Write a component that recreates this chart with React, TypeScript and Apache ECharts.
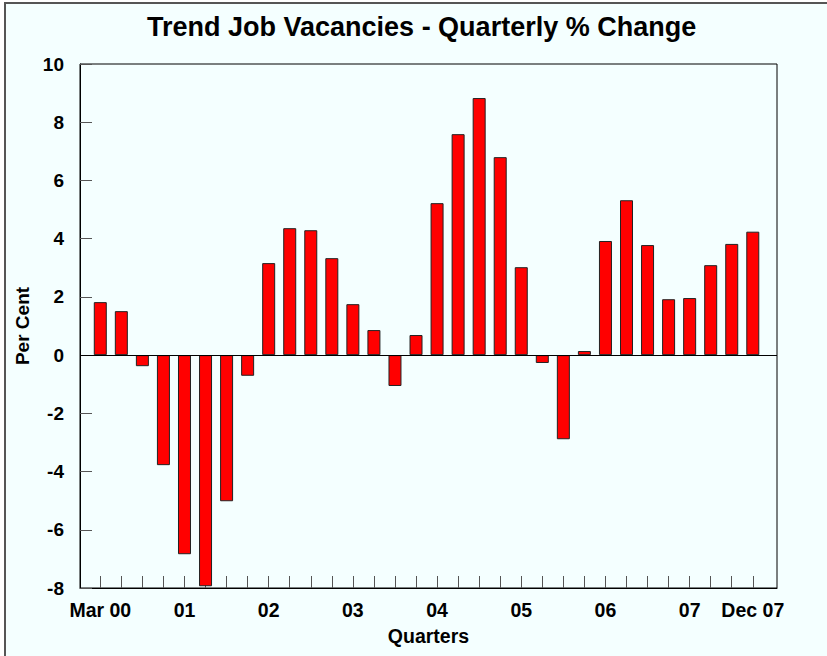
import React, { useEffect, useRef } from "react";
import * as echarts from "echarts";

const quarters: string[] = [
  "Mar 00", "Jun 00", "Sep 00", "Dec 00",
  "Mar 01", "Jun 01", "Sep 01", "Dec 01",
  "Mar 02", "Jun 02", "Sep 02", "Dec 02",
  "Mar 03", "Jun 03", "Sep 03", "Dec 03",
  "Mar 04", "Jun 04", "Sep 04", "Dec 04",
  "Mar 05", "Jun 05", "Sep 05", "Dec 05",
  "Mar 06", "Jun 06", "Sep 06", "Dec 06",
  "Mar 07", "Jun 07", "Sep 07", "Dec 07",
];

const changePct: number[] = [
  1.82, 1.51, -0.38, -3.78,
  -6.84, -7.94, -5.02, -0.71,
  3.16, 4.36, 4.29, 3.33,
  1.75, 0.86, -1.06, 0.69,
  5.22, 7.59, 8.83, 6.8,
  3.02, -0.27, -2.89, 0.14,
  3.92, 5.32, 3.78, 1.92,
  1.96, 3.09, 3.82, 4.24,
];

// x-axis tick labels shown (index -> text)
const labelIndex: number[] = [0, 4, 8, 12, 16, 20, 24, 28, 31];
const labelText: string[] = ["Mar 00", "01", "02", "03", "04", "05", "06", "07", "Dec 07"];

const yTicks: number[] = [-8, -6, -4, -2, 0, 2, 4, 6, 8, 10];

const FONT = '"Liberation Sans", Arial, sans-serif';

export default function App() {
  const ref = useRef<HTMLDivElement>(null);

  useEffect(() => {
    if (!ref.current) return;
    const chart = echarts.init(ref.current, undefined, { renderer: "svg" });
    const data = changePct.map((v, i) => [i, v]);
    chart.setOption({
      animation: false,
      backgroundColor: "transparent",
      title: {
        text: "Trend Job Vacancies - Quarterly % Change",
        left: 147,
        top: 13,
        padding: 0,
        textStyle: { fontFamily: FONT, fontSize: 27, fontWeight: "bold", color: "#000" },
      },
      grid: {
        left: 80,
        top: 64,
        width: 697,
        height: 524,
        show: true,
        borderColor: "#000",
        borderWidth: 1,
        backgroundColor: "transparent",
      },
      xAxis: {
        type: "value",
        min: -0.964,
        max: 32.15,
        name: "Quarters",
        nameLocation: "middle",
        nameGap: 38,
        nameTextStyle: { fontFamily: FONT, fontSize: 19.5, fontWeight: "bold", color: "#000" },
        axisLine: { onZero: false, lineStyle: { color: "#000", width: 1 } },
        axisTick: {
          show: true,
          inside: true,
          length: 12,
          customValues: quarters.map((_, i) => i),
          lineStyle: { color: "#555", width: 1 },
        },
        axisLabel: {
          customValues: labelIndex,
          formatter: (v: number) => {
            const k = labelIndex.indexOf(Math.round(v));
            return k >= 0 ? labelText[k] : "";
          },
          margin: 12,
          fontFamily: FONT,
          fontSize: 19.5,
          fontWeight: "bold",
          color: "#000",
        },
        splitLine: { show: false },
      },
      yAxis: {
        type: "value",
        min: yTicks[0],
        max: yTicks[yTicks.length - 1],
        interval: 2,
        name: "Per Cent",
        nameLocation: "middle",
        nameGap: 46,
        nameRotate: 90,
        nameTextStyle: { fontFamily: FONT, fontSize: 19, fontWeight: "bold", color: "#000" },
        axisLine: { show: true, onZero: false, lineStyle: { color: "#000", width: 1 } },
        axisTick: { show: true, inside: true, length: 12, lineStyle: { color: "#555", width: 1 } },
        axisLabel: {
          margin: 16,
          fontFamily: FONT,
          fontSize: 19,
          fontWeight: "bold",
          color: "#000",
        },
        splitLine: { show: false },
      },
      series: [
        {
          type: "bar",
          data,
          barWidth: 13,
          itemStyle: { color: "#FF0000", borderColor: "#222", borderWidth: 1 },
          markLine: {
            silent: true,
            symbol: "none",
            label: { show: false },
            lineStyle: { color: "#000", width: 1, type: "solid" },
            data: [{ yAxis: 0 }],
          },
        },
      ],
    });
    return () => chart.dispose();
  }, []);

  return (
    <div style={{ position: "absolute", left: 0, top: 0, width: 827, height: 656, background: "#fff", overflow: "hidden" }}>
      <div
        style={{
          position: "absolute",
          left: 4,
          top: 2,
          right: 0,
          bottom: 0,
          background: "#F4FFFF",
          borderLeft: "2px solid #555",
          borderTop: "2px solid #555",
        }}
      />
      <div ref={ref} style={{ position: "absolute", left: 0, top: 0, width: 827, height: 656 }} />
    </div>
  );
}
